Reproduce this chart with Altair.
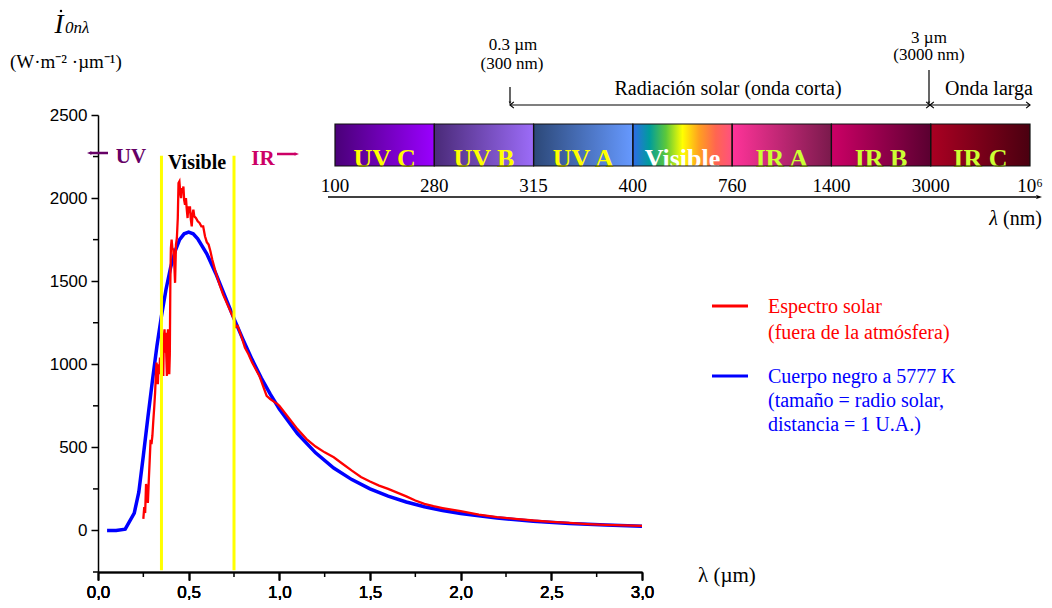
import altair as alt
import pandas as pd

# ---------------- data ----------------
# Black body curve (5777 K, scaled to solar radius and 1 AU)
bb_wl = [0.05, 0.10, 0.15, 0.20, 0.225, 0.25, 0.275, 0.30, 0.325, 0.35, 0.375, 0.40,
         0.425, 0.45, 0.475, 0.50, 0.525, 0.55, 0.60, 0.65, 0.70, 0.75, 0.80, 0.85,
         0.90, 0.95, 1.00, 1.1, 1.2, 1.3, 1.4, 1.5, 1.6, 1.7, 1.8, 1.9, 2.0, 2.2,
         2.4, 2.6, 2.8, 3.0]
bb_val = [0, 0, 8, 105, 230, 450, 680, 900, 1110, 1290, 1450, 1580,
          1680, 1750, 1785, 1795, 1785, 1755, 1665, 1545, 1410, 1275, 1148, 1028,
          918, 820, 731, 583, 467, 376, 306, 250, 206, 171, 143, 120, 102, 75,
          56, 42, 33, 26]

# Solar spectrum outside the atmosphere
sol_wl = [0.250, 0.255, 0.260, 0.265, 0.270, 0.275, 0.280, 0.285, 0.290, 0.295,
          0.300, 0.305, 0.310, 0.315, 0.320, 0.323, 0.327, 0.330, 0.334, 0.338,
          0.342, 0.346, 0.350, 0.354, 0.357, 0.360, 0.363, 0.367, 0.370, 0.373,
          0.377, 0.380, 0.383, 0.386, 0.390, 0.393, 0.396, 0.399, 0.402, 0.406,
          0.410, 0.415, 0.420, 0.425, 0.430, 0.435, 0.440, 0.444, 0.449, 0.454,
          0.458, 0.462, 0.467, 0.471, 0.475, 0.480, 0.485, 0.489, 0.494, 0.498,
          0.503, 0.507, 0.512, 0.517, 0.521, 0.526, 0.531, 0.540, 0.550, 0.560,
          0.570, 0.580, 0.590, 0.600, 0.610, 0.620, 0.630, 0.650, 0.670, 0.690,
          0.710, 0.730, 0.750, 0.760, 0.770, 0.790, 0.810, 0.830, 0.850, 0.870,
          0.890, 0.910, 0.930, 0.950, 0.970, 0.990, 1.00, 1.05, 1.10, 1.15,
          1.20, 1.25, 1.30, 1.35, 1.40, 1.45, 1.50, 1.55, 1.60, 1.65,
          1.70, 1.75, 1.80, 1.85, 1.90, 1.95, 2.00, 2.10, 2.20, 2.30,
          2.40, 2.50, 2.60, 2.70, 2.80, 2.90, 3.00]
sol_val = [70, 140, 105, 280, 240, 165, 300, 420, 545, 520,
           570, 660, 740, 830, 960, 1010, 950, 880, 1000, 940,
           1040, 960, 1000, 1130, 1100, 930, 1160, 1210, 1070, 1190,
           1040, 930, 1140, 1210, 1050, 940, 1060, 1500, 1700, 1750,
           1700, 1690, 1620, 1490, 1720, 1760, 1880, 2090, 2100, 2030,
           2000, 2060, 2040, 2070, 1990, 1960, 2000, 1940, 1880, 1950,
           1910, 1950, 1870, 1830, 1900, 1930, 1890, 1880, 1860, 1850,
           1830, 1830, 1770, 1735, 1720, 1680, 1630, 1550, 1480, 1420,
           1370, 1320, 1270, 1225, 1230, 1170, 1100, 1060, 1010, 970,
           930, 870, 810, 790, 775, 760, 750, 680, 610, 550,
           505, 470, 440, 400, 360, 322, 295, 270, 250, 228,
           205, 180, 160, 146, 135, 125, 116, 95, 80, 70,
           60, 52, 45, 38, 33, 30, 28]

vis_limits = [0.35, 0.75]
x_major = [0.0, 0.5, 1.0, 1.5, 2.0, 2.5, 3.0]
x_minor = [0.25, 0.75, 1.25, 1.75, 2.25, 2.75]
y_major = [0, 500, 1000, 1500, 2000, 2500]
y_minor = [-250, 250, 750, 1250, 1750, 2250]

band_names = ["UV C", "UV B", "UV A", "Visible", "IR A", "IR B", "IR C"]
band_edge_labels = ["100", "280", "315", "400", "760", "1400", "3000", "10⁶"]
band_text_colors = ["#FFFF00", "#FFFF00", "#FFFF00", "#FFFFFF", "#CCFF33", "#CCFF33", "#CCFF33"]
band_gradients = [
    ["#4a0078", "#9a00ff"],
    ["#4a2a78", "#9c6cf8"],
    ["#2c4878", "#6699ff"],
    ["#2f6ae8", "#009c9c", "#5cc83a", "#ffff00", "#ffa020", "#ff6650", "#ff5080"],
    ["#ff3399", "#7a1a4c"],
    ["#cc0066", "#5a0030"],
    ["#aa0022", "#4a0010"],
]
legend_red = ["Espectro solar", "(fuera de la atmósfera)"]
legend_blue = ["Cuerpo negro a 5777 K", "(tamaño = radio solar,", "distancia = 1 U.A.)"]

SERIF = "Liberation Serif"
SANS = "Liberation Sans"

# ---------------- scales and axes ----------------
xs = alt.Scale(domain=[0, 3], range=[0, 544], nice=False, zero=False)
ys = alt.Scale(domain=[-250, 2500], nice=False, zero=False)
bs = alt.Scale(domain=[0, 7], range=[237, 932], nice=False, zero=False)

x_axis = alt.Axis(values=x_major, labelExpr="replace(format(datum.value, '.1f'), '.', ',')",
                  title=None, grid=False, tickSize=8, tickWidth=1.5, domainWidth=1.5,
                  domainColor="black", tickColor="black", labelFont=SANS, labelFontSize=17,
                  labelColor="black", labelPadding=4, labelFlush=False, labelOverlap=False,
                  orient="bottom")
y_axis = alt.Axis(values=y_major, format="d", title=None, grid=False, tickSize=7, tickWidth=1.5,
                  domainWidth=1.5, domainColor="black", tickColor="black", labelFont=SANS,
                  labelFontSize=17, labelColor="black", labelPadding=4, labelFlush=False,
                  labelOverlap=False, orient="left")
inv_axis = alt.Axis(labels=False, ticks=False, domain=False, grid=False, title=None, orient="top")

# ---------------- main plot ----------------
bb_df = pd.DataFrame({"wl": bb_wl, "val": bb_val})
sol_df = pd.DataFrame({"wl": sol_wl, "val": sol_val})

blue = alt.Chart(bb_df).mark_line(color="#0000FF", strokeWidth=3.5).encode(
    x=alt.X("wl:Q", scale=xs, axis=x_axis),
    y=alt.Y("val:Q", scale=ys, axis=y_axis),
)
red = alt.Chart(sol_df).mark_line(color="#FF0000", strokeWidth=2.3).encode(
    x=alt.X("wl:Q", scale=xs, axis=x_axis),
    y=alt.Y("val:Q", scale=ys, axis=y_axis),
)
yellow = alt.Chart(pd.DataFrame({"wl": vis_limits})).mark_rule(color="#FFFF00", strokeWidth=3).encode(
    x=alt.X("wl:Q", scale=xs, axis=x_axis),
    y=alt.YDatum(2255, scale=ys, axis=y_axis),
    y2=alt.Y2Datum(-240),
)
xminor = alt.Chart(pd.DataFrame({"wl": x_minor})).mark_rule(color="black", strokeWidth=1.5).encode(
    x=alt.X("wl:Q", scale=xs, axis=x_axis), y=alt.value(457), y2=alt.value(462))
yminor = alt.Chart(pd.DataFrame({"val": y_minor})).mark_rule(color="black", strokeWidth=1.5).encode(
    y=alt.Y("val:Q", scale=ys, axis=y_axis), x=alt.value(-5), x2=alt.value(0))

# ---------------- spectrum band ----------------
band_df = pd.DataFrame({
    "i": list(range(len(band_names))),
    "i2": list(range(1, len(band_names) + 1)),
    "mid": [k + 0.5 for k in range(len(band_names))],
    "name": band_names,
    "tc": band_text_colors,
})
edge_df = pd.DataFrame({"e": list(range(len(band_edge_labels))), "lab": band_edge_labels})

band_layers = []
for k, cols in enumerate(band_gradients):
    n = len(cols)
    stops = [{"offset": j / (n - 1), "color": c} for j, c in enumerate(cols)]
    grad = {"gradient": "linear", "x1": 0, "x2": 1, "y1": 0, "y2": 0, "stops": stops}
    band_layers.append(
        alt.Chart(band_df).transform_filter(f"datum.i == {k}").mark_rect(fill=grad).encode(
            x=alt.X("i:Q", scale=bs, axis=inv_axis), x2="i2:Q", y=alt.value(9), y2=alt.value(51))
    )
band_text = alt.Chart(band_df).mark_text(font=SERIF, fontWeight="bold", fontSize=26,
                                         baseline="alphabetic", align="center").encode(
    x=alt.X("mid:Q", scale=bs, axis=inv_axis), y=alt.value(52), text="name:N",
    color=alt.Color("tc:N", scale=None))
band_border = alt.Chart(band_df).mark_rect(fillOpacity=0, stroke="#111111", strokeWidth=1.2).encode(
    x=alt.X("i:Q", scale=bs, axis=inv_axis), x2="i2:Q", y=alt.value(9), y2=alt.value(51))
edge_text = alt.Chart(edge_df).mark_text(font=SERIF, fontSize=19, baseline="alphabetic",
                                         align="center", color="black").encode(
    x=alt.X("e:Q", scale=bs, axis=inv_axis), y=alt.value(77), text="lab:N")


# ---------------- annotations (pixel placed) ----------------
def txt(t, x, y, size=20, color="black", align="left", font=SERIF, style="normal", weight="normal"):
    return alt.Chart(pd.DataFrame({"t": [t]})).mark_text(
        font=font, fontSize=size, color=color, align=align, baseline="alphabetic",
        fontStyle=style, fontWeight=weight).encode(x=alt.value(x), y=alt.value(y), text="t:N")


def hline(x1, x2, y, color="black", w=1.2):
    return alt.Chart(pd.DataFrame({"a": [0]})).mark_rule(color=color, strokeWidth=w).encode(
        x=alt.value(x1), x2=alt.value(x2), y=alt.value(y))


def vline(x, y1, y2, color="black", w=1.2):
    return alt.Chart(pd.DataFrame({"a": [0]})).mark_rule(color=color, strokeWidth=w).encode(
        x=alt.value(x), y=alt.value(y1), y2=alt.value(y2))


def head(x, y, shape, color="black", filled=False, size=60, w=1.2):
    return alt.Chart(pd.DataFrame({"a": [0]})).mark_point(
        shape=shape, filled=filled, size=size, color=color, strokeWidth=w, opacity=1).encode(
        x=alt.value(x), y=alt.value(y))


CHEV_R = "M-1,-0.8L0,0L-1,0.8"
CHEV_L = "M1,-0.8L0,0L1,0.8"
TRI_D = "M-0.45,-1.4L0.45,-1.4L0,0Z"
TRI_R = "M-1.6,-0.6L0,0L-1.6,0.6Z"
TRI_L = "M1.6,-0.6L0,0L1.6,0.6Z"

annots = [
    # y title
    head(-37, -104, "circle", filled=True, size=6),
    txt("I", -39, -82, size=27, align="center", style="italic"),
    txt("0nλ", -33, -82, size=17, style="italic"),
    txt("(W·m⁻² ·µm⁻¹)", -88, -47, size=19),
    # x title
    txt("λ (µm)", 600, 467, size=21),
    # UV / Visible / IR labels
    hline(-8, 10, 38, color="#660066", w=2.5),
    head(-11, 38, TRI_L, color="#660066", filled=True, size=30),
    txt("UV", 33, 48, size=21, color="#660066", align="center", weight="bold"),
    txt("Visible", 99, 54, size=20, color="black", align="center", weight="bold"),
    txt("IR", 165, 50, size=21, color="#CC0066", align="center", weight="bold"),
    hline(179, 197, 39, color="#CC0066", w=2.5),
    head(201, 39, TRI_R, color="#CC0066", filled=True, size=30),
    # top annotations
    txt("0.3 µm", 415, -65, size=17, align="center"),
    txt("(300 nm)", 414, -46, size=17, align="center"),
    vline(412, -28, -14),
    head(412, -10, TRI_D, filled=True, size=30),
    hline(412, 832, -10),
    head(412, -10, CHEV_L, size=60),
    head(832, -10, CHEV_R, size=60),
    txt("Radiación solar (onda corta)", 630, -20, size=20, align="center"),
    txt("3 µm", 831, -72, size=17, align="center"),
    txt("(3000 nm)", 831, -55, size=17, align="center"),
    vline(831, -45, -14),
    head(831, -10, TRI_D, filled=True, size=30),
    hline(832, 932, -10),
    head(832, -10, CHEV_L, size=60),
    head(932, -10, CHEV_R, size=60),
    txt("Onda larga", 847, -20, size=20),
    # wavelength axis under the band
    hline(230, 938, 82, w=1.3),
    head(944, 82, TRI_R, filled=True, size=50),
    txt("λ", 900, 110, size=20, align="right", style="italic"),
    txt(" (nm)", 944, 110, size=20, align="right"),
    # legend
    hline(614, 650, 191, color="#FF0000", w=3),
    hline(614, 650, 261, color="#0000FF", w=3),
]
for j, line in enumerate(legend_red):
    annots.append(txt(line, 670, 198 + 26 * j, size=20, color="#FF0000"))
for j, line in enumerate(legend_blue):
    annots.append(txt(line, 670, 268 + 24 * j, size=20, color="#0000FF"))

chart = alt.layer(
    blue, red, yellow, xminor, yminor,
    *band_layers, band_text, band_border, edge_text,
    *annots,
).resolve_scale(x="independent").properties(
    width=944,
    height=457,
    padding={"left": 90, "top": 107, "right": 2, "bottom": 28},
    autosize=alt.AutoSizeParams(type="none"),
    background="white",
).configure_view(stroke=None)

chart.save("out.html", embed_options={"renderer": "svg", "actions": False})
